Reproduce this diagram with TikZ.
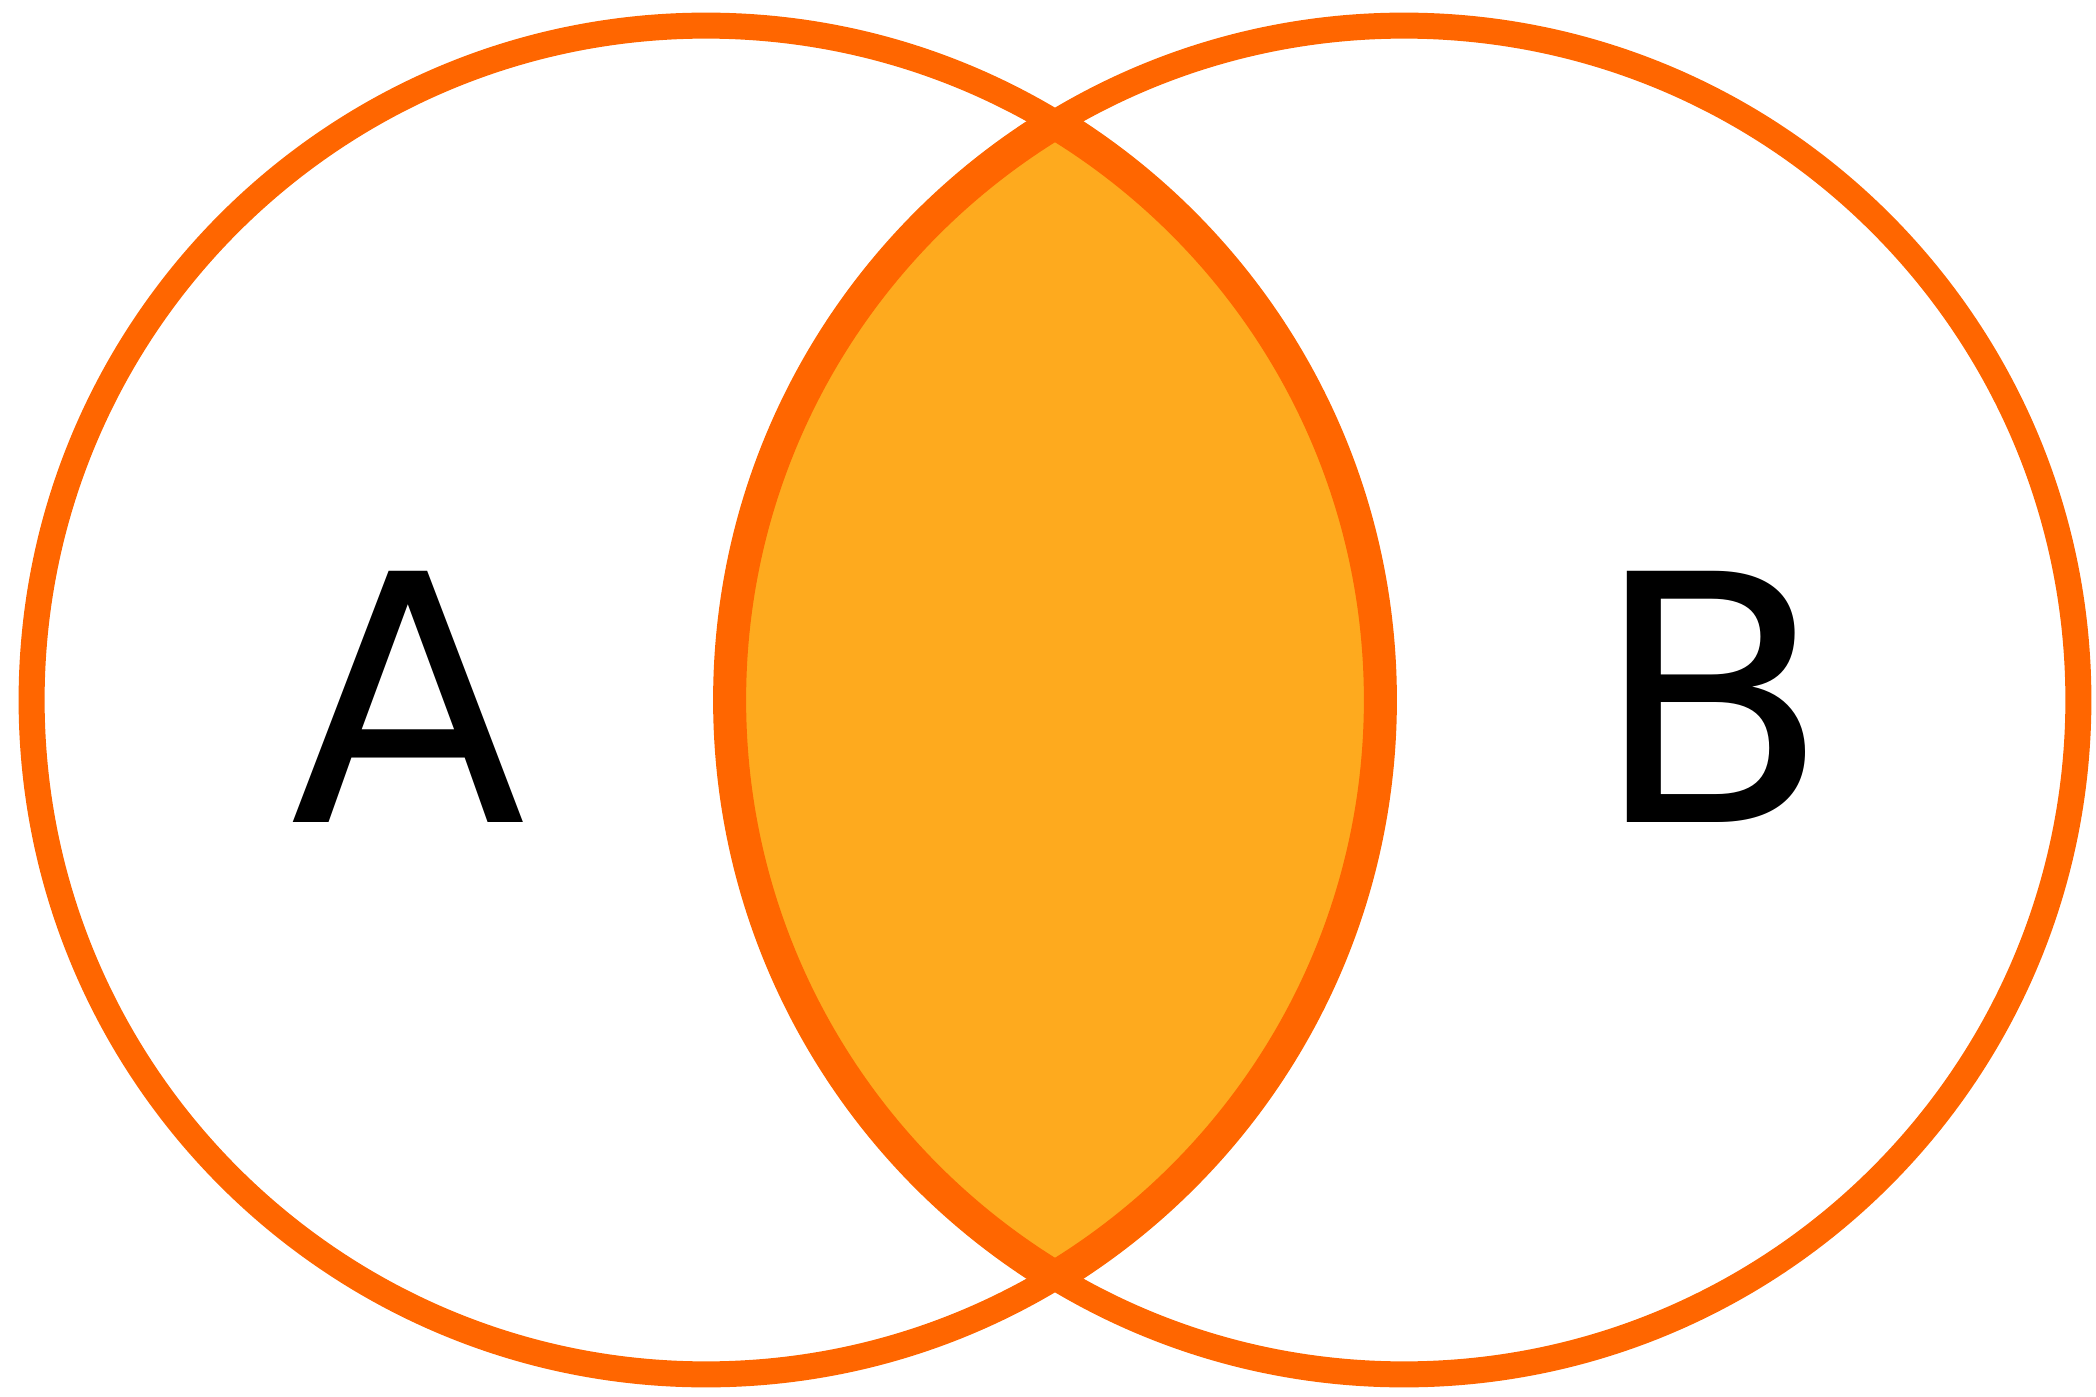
\documentclass[tikz,border=0pt]{standalone}
\usepackage{fontspec}
\setmainfont{DejaVu Sans}
\definecolor{ringorange}{HTML}{FF6600}
\definecolor{lensfill}{HTML}{FEAA1E}
\tikzset{
  ring/.style={draw=ringorange, line width=0.26cm},
  lensedge/.style={draw=ringorange, line width=0.33cm},
  setlabel/.style={inner sep=0pt, anchor=base, font=\fontsize{98}{98}\selectfont, text=black}
}
\begin{document}
\begin{tikzpicture}[x=0.01cm,y=-0.01cm]
  \useasboundingbox (0,0) rectangle (2096,1397);
  \coordinate (cA) at (706,700);
  \coordinate (cB) at (1404,700);
  % lens fill
  \begin{scope}
    \clip (cA) circle[radius=6.74cm];
    \fill[lensfill] (cB) circle[radius=6.74cm];
  \end{scope}
  % circles
  \draw[ring] (cA) circle[radius=6.74cm];
  \draw[ring] (cB) circle[radius=6.74cm];
  % lens border
  \begin{scope}
    \clip (cB) circle[radius=6.74cm];
    \draw[lensedge] (cA) circle[radius=6.74cm];
  \end{scope}
  \begin{scope}
    \clip (cA) circle[radius=6.74cm];
    \draw[lensedge] (cB) circle[radius=6.74cm];
  \end{scope}
  % labels
  \node[setlabel] (labelA) at (408,822) {A};
  \node[setlabel] (labelB) at (1712,822) {B};
\end{tikzpicture}
\end{document}
